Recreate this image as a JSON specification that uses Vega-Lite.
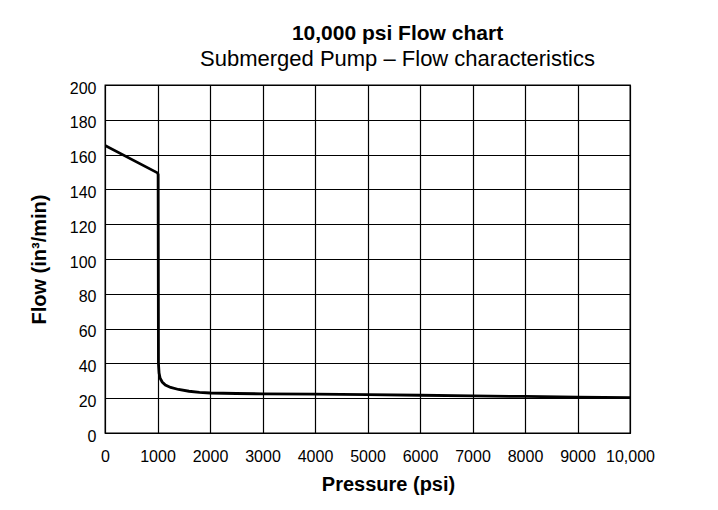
{
  "$schema": "https://vega.github.io/schema/vega-lite/v6.json",
  "width": 525,
  "height": 348,
  "autosize": {"type": "none"},
  "padding": {"left": 105, "top": 85, "right": 88, "bottom": 77},
  "background": "white",
  "title": {
    "text": "10,000 psi Flow chart",
    "subtitle": "Submerged Pump – Flow characteristics",
    "anchor": "middle",
    "frame": "group",
    "dx": 30,
    "offset": 10,
    "font": "Liberation Sans",
    "fontSize": 21,
    "fontWeight": "bold",
    "color": "black",
    "subtitleFont": "Liberation Sans",
    "subtitleFontSize": 22,
    "subtitleColor": "black",
    "subtitlePadding": 5
  },
  "config": {
    "view": {"stroke": "black", "strokeWidth": 1.3},
    "axis": {
      "labelFont": "Liberation Sans",
      "titleFont": "Liberation Sans",
      "labelColor": "black",
      "titleColor": "black",
      "domainColor": "black",
      "gridColor": "black",
      "gridOpacity": 1,
      "gridWidth": 1.2,
      "tickColor": "black"
    }
  },
  "data": {
    "values": [
      {"pressure": 0, "flow": 165.3},
      {"pressure": 1000, "flow": 149.5},
      {"pressure": 1012, "flow": 148.5},
      {"pressure": 1018, "flow": 40},
      {"pressure": 1030, "flow": 34.5},
      {"pressure": 1050, "flow": 31.5},
      {"pressure": 1090, "flow": 29.3},
      {"pressure": 1150, "flow": 27.6},
      {"pressure": 1250, "flow": 26.2},
      {"pressure": 1400, "flow": 25},
      {"pressure": 1600, "flow": 24},
      {"pressure": 1800, "flow": 23.4},
      {"pressure": 2000, "flow": 23},
      {"pressure": 2500, "flow": 22.7},
      {"pressure": 3000, "flow": 22.5},
      {"pressure": 4000, "flow": 22.3},
      {"pressure": 5000, "flow": 22.0},
      {"pressure": 6000, "flow": 21.7},
      {"pressure": 7000, "flow": 21.3},
      {"pressure": 8000, "flow": 21.0},
      {"pressure": 9000, "flow": 20.6},
      {"pressure": 10000, "flow": 20.3}
    ]
  },
  "mark": {"type": "line", "color": "black", "strokeWidth": 2.8, "clip": true},
  "encoding": {
    "x": {
      "field": "pressure",
      "type": "quantitative",
      "scale": {"domain": [0, 10000], "nice": false},
      "axis": {
        "title": "Pressure (psi)",
        "values": [0, 1000, 2000, 3000, 4000, 5000, 6000, 7000, 8000, 9000, 10000],
        "labelExpr": "datum.value == 10000 ? '10,000' : '' + datum.value",
        "labelFontSize": 16,
        "labelPadding": 15,
        "ticks": false,
        "labelFlush": false,
        "labelOverlap": false,
        "titleFontSize": 20,
        "titleFontWeight": "bold",
        "titlePadding": 10,
        "titleX": 283
      }
    },
    "y": {
      "field": "flow",
      "type": "quantitative",
      "scale": {"domain": [0, 200], "nice": false},
      "axis": {
        "title": "Flow (in³/min)",
        "values": [0, 20, 40, 60, 80, 100, 120, 140, 160, 180, 200],
        "labelFontSize": 16,
        "labelPadding": 9,
        "labelOffset": 3,
        "ticks": false,
        "labelFlush": false,
        "labelOverlap": false,
        "titleFontSize": 20,
        "titleFontWeight": "bold",
        "titlePadding": 20
      }
    }
  }
}
